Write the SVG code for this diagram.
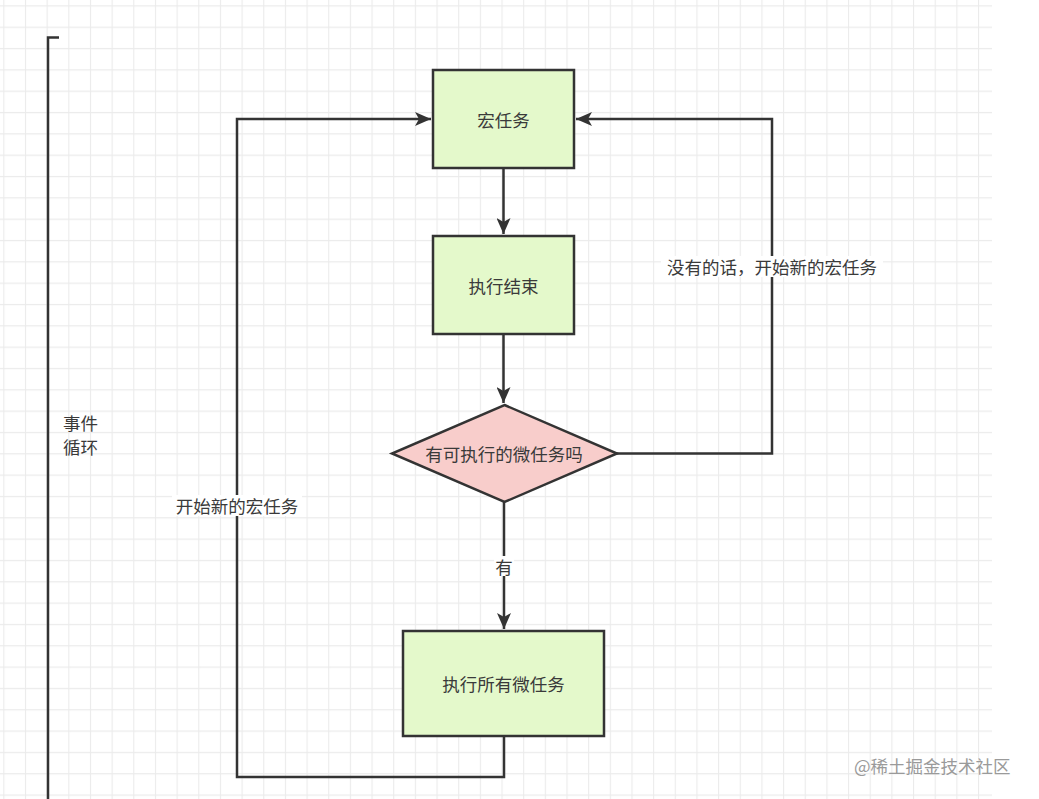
<svg xmlns="http://www.w3.org/2000/svg" width="1039" height="799" viewBox="0 0 1039 799">
  <style>
    .box { fill: #e4f9cb; stroke: #333333; stroke-width: 2.5; }
    .dia { fill: #f8cdcb; stroke: #333333; stroke-width: 2.5; }
    .edge { fill: none; stroke: #333333; stroke-width: 2.5; }
    .t { font-family: "Noto Sans CJK SC", "Noto Sans", sans-serif; font-size: 17.5px; fill: #3a3a3a; }
    .c { text-anchor: middle; dominant-baseline: central; }
    .wm { font-family: "Noto Sans CJK SC", "Noto Sans", sans-serif; font-size: 17.5px; fill: #9a9a9a; }
  </style>
  <defs>
    <pattern id="grid" patternUnits="userSpaceOnUse" x="3.3" y="5.3" width="21.66" height="21.33">
      <path d="M0.5 0 V21.33 M0 0.5 H21.66" fill="none" stroke="#ebebeb" stroke-width="1.2"/>
    </pattern>
    <marker id="arr" viewBox="0 0 16 14" refX="16" refY="7" markerWidth="16" markerHeight="14" markerUnits="userSpaceOnUse" orient="auto">
      <path d="M0 0 L16 7 L0 14 L4 7 Z" fill="#333333"/>
    </marker>
  </defs>
  <rect x="0" y="0" width="1039" height="799" fill="#ffffff"/>
  <rect x="0" y="0" width="992" height="799" fill="url(#grid)"/>

  <g id="connectors">
    <path class="edge" d="M503.5 168 V234" marker-end="url(#arr)"/>
    <path class="edge" d="M503.5 334 V403" marker-end="url(#arr)"/>
    <path class="edge" d="M504 502 V629" marker-end="url(#arr)"/>
    <path class="edge" d="M617 453.5 H772 V119 H576" marker-end="url(#arr)"/>
    <path class="edge" d="M504 736 V777 H237 V119 H431" marker-end="url(#arr)"/>
    <rect x="494" y="556" width="20" height="20" fill="#ffffff"/>
    <text class="t c" x="504" y="566">有</text>
    <rect x="172" y="495" width="130" height="21" fill="#ffffff"/>
    <text class="t c" x="237" y="505">开始新的宏任务</text>
    <rect x="661" y="256" width="222" height="21" fill="#ffffff"/>
    <text class="t c" x="772" y="266">没有的话，开始新的宏任务</text>
  </g>

  <g id="event-loop">
    <path class="edge" d="M59 37.5 H48 V799"/>
    <text class="t" x="63" y="430">事件</text>
    <text class="t" x="63" y="454">循环</text>
  </g>

  <g id="macro-task">
    <rect class="box" x="433" y="70" width="141" height="98"/>
    <text class="t c" x="503.5" y="119">宏任务</text>
  </g>

  <g id="exec-end">
    <rect class="box" x="433" y="236" width="141" height="98"/>
    <text class="t c" x="503.5" y="285">执行结束</text>
  </g>

  <g id="has-micro">
    <polygon class="dia" points="504.5,405 617,453.5 504.5,502 392,453.5"/>
    <text class="t c" x="504" y="453.5">有可执行的微任务吗</text>
  </g>

  <g id="run-micro">
    <rect class="box" x="403" y="631" width="201" height="105"/>
    <text class="t c" x="503.5" y="683">执行所有微任务</text>
  </g>

  <text class="wm" x="854" y="773">@稀土掘金技术社区</text>
</svg>
